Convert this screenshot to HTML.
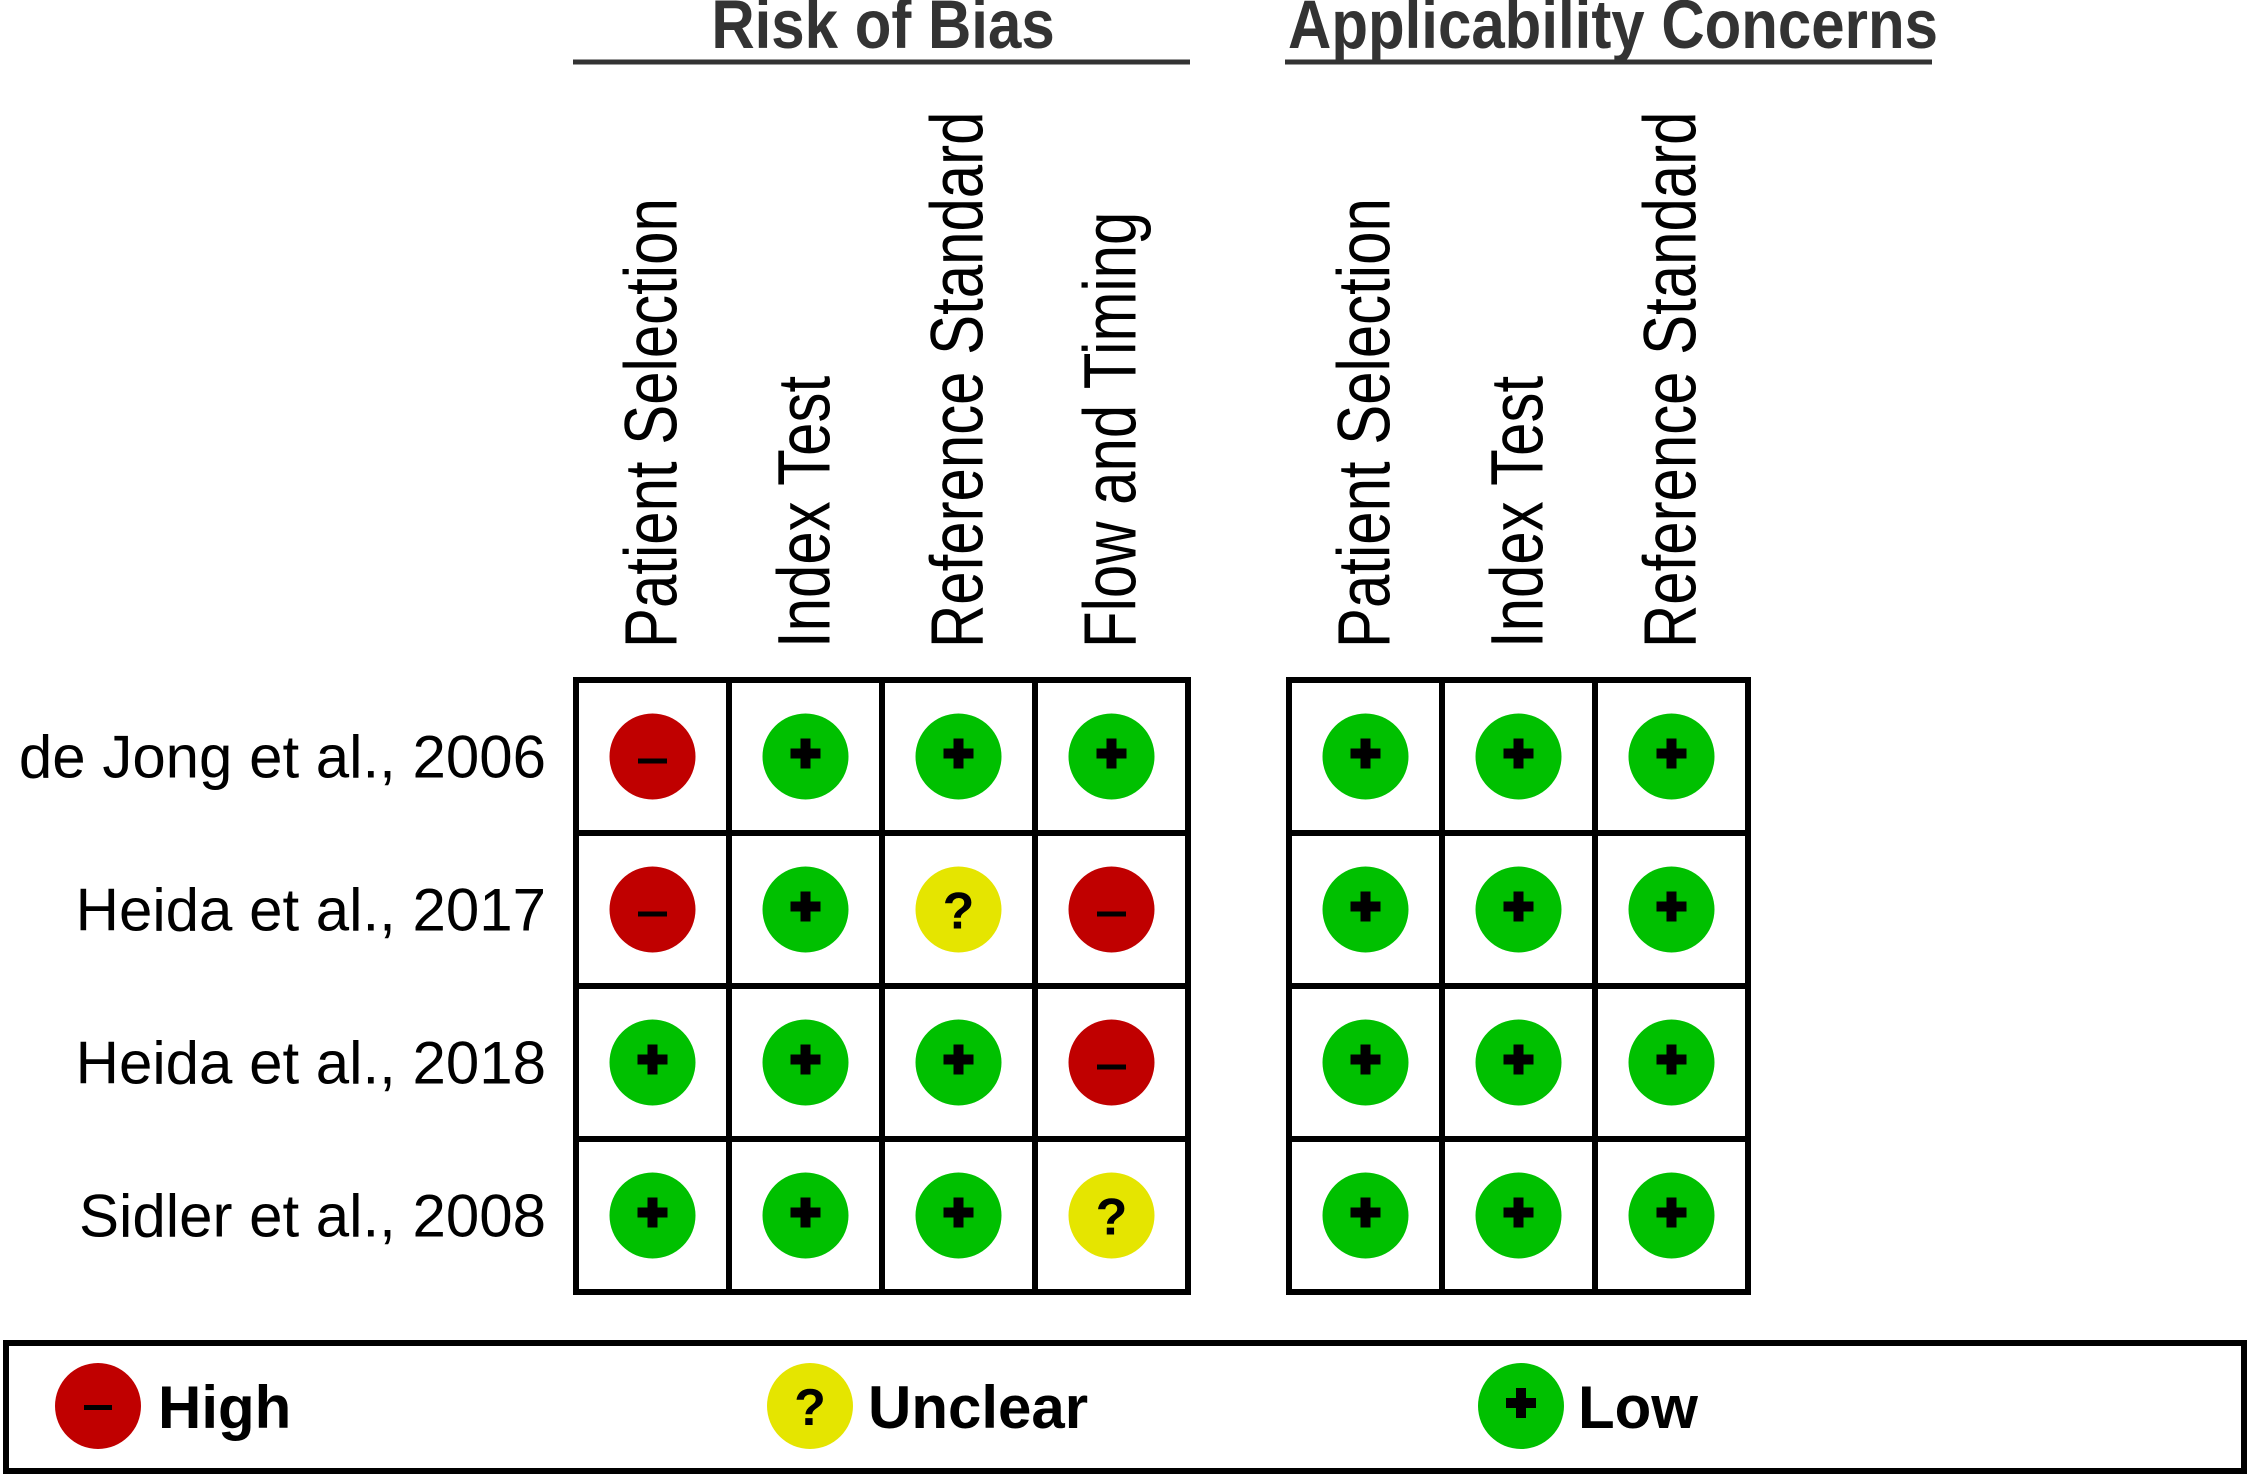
<!DOCTYPE html>
<html><head><meta charset="utf-8"><style>
html,body{margin:0;padding:0;background:#fff;}
svg{display:block;font-family:"Liberation Sans",Arial,sans-serif;}
</style></head><body>
<svg id="chart" width="2250" height="1479" viewBox="0 0 2250 1479" xmlns="http://www.w3.org/2000/svg">
<g>
<text transform="translate(883 48) scale(1 1.15)" text-anchor="middle" font-size="60" font-weight="bold" fill="#333">Risk of Bias</text>
<line x1="573" y1="62" x2="1190" y2="62" stroke="#333" stroke-width="5"/>
</g>
<g>
<text transform="translate(1613 48) scale(1 1.15)" text-anchor="middle" font-size="60" font-weight="bold" fill="#333">Applicability Concerns</text>
<line x1="1285" y1="62" x2="1932" y2="62" stroke="#333" stroke-width="5"/>
</g>
<g id="cols"></g>
<g id="rows"></g>
<g id="grid"></g>
<g id="marks"></g>
<g>
<rect x="6" y="1343" width="2238" height="128" fill="none" stroke="#000" stroke-width="6"/>
<g>
<circle cx="98" cy="1406" r="43" fill="#c00000"/>
<rect x="84" y="1405" width="28" height="5" fill="#000"/>
<text x="158" y="1428" font-size="60" font-weight="bold">High</text></g>
<g>
<circle cx="810" cy="1406" r="43" fill="#e5e500"/>
<text x="810" y="1425" text-anchor="middle" font-size="52" font-weight="bold">?</text>
<text x="868" y="1428" font-size="60" font-weight="bold">Unclear</text></g>
<g>
<circle cx="1521" cy="1406" r="43" fill="#00c000"/>
<rect x="1506" y="1398" width="30" height="10" fill="#000"/>
<rect x="1516" y="1388" width="10" height="30" fill="#000"/>
<text x="1578" y="1428" font-size="60" font-weight="bold">Low</text></g>
</g>
</svg>
<script>
const studies = ["de Jong et al., 2006","Heida et al., 2017","Heida et al., 2018","Sidler et al., 2008"];
const biasDomains = ["Patient Selection","Index Test","Reference Standard","Flow and Timing"];
const applDomains = ["Patient Selection","Index Test","Reference Standard"];
const biasRatings = [
  ["high","low","low","low"],
  ["high","low","unclear","high"],
  ["low","low","low","high"],
  ["low","low","low","unclear"]
];
const applRatings = [
  ["low","low","low"],
  ["low","low","low"],
  ["low","low","low"],
  ["low","low","low"]
];

const NS="http://www.w3.org/2000/svg";
const cell=153, top0=680, leftB=576, leftA=1289;
function mk(tag,attrs,parent){const e=document.createElementNS(NS,tag);for(const k in attrs)e.setAttribute(k,attrs[k]);parent.appendChild(e);return e;}
function colX(left,i){return left+cell*i+cell/2;}
function rowY(j){return top0+cell*j+cell/2;}
const colsG=document.getElementById('cols'),rowsG=document.getElementById('rows'),gridG=document.getElementById('grid'),marksG=document.getElementById('marks');

function drawCols(domains,left,prefix){
  domains.forEach((d,i)=>{
    const x=colX(left,i)+24, y=648;
    const t=mk('text',{x:0,y:0,'font-size':74,transform:`translate(${x} ${y}) rotate(-90) scale(0.81 1)`},colsG);
    t.textContent=d;
    
    
  });
}
drawCols(biasDomains,leftB,'bias');
drawCols(applDomains,leftA,'applicability');

studies.forEach((s,j)=>{
  const t=mk('text',{x:546,y:rowY(j)+21,'font-size':60,'text-anchor':'end'},rowsG);
  t.textContent=s;
  
  
});

function drawGrid(left,nc,name){
  const w=nc*cell,h=studies.length*cell;
  for(let i=0;i<=nc;i++){
    const l=mk('line',{x1:left+i*cell,y1:top0-3,x2:left+i*cell,y2:top0+h+3,stroke:'#000','stroke-width':6},gridG);
    
    
  }
  for(let j=0;j<=studies.length;j++){
    const l=mk('line',{x1:left-3,y1:top0+j*cell,x2:left+w+3,y2:top0+j*cell,stroke:'#000','stroke-width':6},gridG);
    
    
  }
}
drawGrid(leftB,biasDomains.length,'bias');
drawGrid(leftA,applDomains.length,'applicability');

const colors={high:'#c00000',low:'#00c000',unclear:'#e5e500'};
function drawMark(cx,cy,r){
  const g=mk('g',{},marksG);
  
  
  mk('circle',{cx:cx,cy:cy,r:43,fill:colors[r]},g);
  if(r==='low'){
    mk('rect',{x:cx-15,y:cy-8,width:30,height:10,fill:'#000'},g);
    mk('rect',{x:cx-5,y:cy-18,width:10,height:30,fill:'#000'},g);
  }else if(r==='high'){
    mk('rect',{x:cx-14.5,y:cy+2,width:29,height:5,fill:'#000'},g);
  }else{
    const t=mk('text',{x:cx,y:cy+19,'text-anchor':'middle','font-size':52,'font-weight':'bold'},g);
    t.textContent='?';
  }
}
biasRatings.forEach((row,j)=>row.forEach((r,i)=>drawMark(colX(leftB,i),rowY(j),r)));
applRatings.forEach((row,j)=>row.forEach((r,i)=>drawMark(colX(leftA,i),rowY(j),r)));
</script>
</body></html>
